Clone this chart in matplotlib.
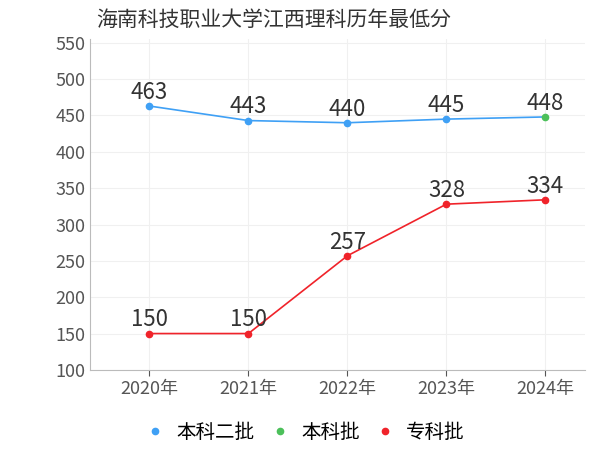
import matplotlib
matplotlib.use('Agg')
import matplotlib.pyplot as plt
from matplotlib import font_manager

names = {f.name for f in font_manager.fontManager.ttflist}
cjk = [n for n in ["Noto Sans CJK SC", "Noto Sans CJK JP", "Noto Sans CJK TC", "Noto Sans CJK KR"] if n in names]
plt.rcParams['font.family'] = 'sans-serif'
plt.rcParams['font.sans-serif'] = cjk + ['DejaVu Sans']

years = ["2020年", "2021年", "2022年", "2023年", "2024年"]
benke2 = [463, 443, 440, 445]
benke = [448]
zhuanke = [150, 150, 257, 328, 334]

blue = "#3fa0f5"
green = "#4cc05a"
red = "#f0232a"

fig = plt.figure(figsize=(6, 4.5), dpi=100)
ax = fig.add_axes([0.15, 0.178, 0.825, 0.735])

x = list(range(len(years)))
# blue line connects 本科二批 and 本科批
ax.plot(x, benke2 + benke, color=blue, lw=1.2, zorder=2)
ax.plot(x[:4], benke2, 'o', color=blue, ms=4.5, zorder=3)
ax.plot(x[4:], benke, 'o', color=green, ms=4.5, zorder=3)
ax.plot(x, zhuanke, '-o', color=red, lw=1.2, ms=4.5, zorder=3)

for xi, v in zip(x, benke2 + benke):
    ax.text(xi, v + 3, str(v), ha='center', va='bottom', fontsize=16, color='#333333')
for xi, v in zip(x, zhuanke):
    ax.text(xi, v + 3, str(v), ha='center', va='bottom', fontsize=16, color='#333333')

ax.set_xlim(-0.6, 4.4)
ax.set_ylim(100, 555)
ax.set_yticks(range(100, 551, 50))
ax.set_xticks(x)
ax.set_xticklabels(years)
ax.tick_params(axis='both', labelsize=13, colors='#555555', length=4)
ax.tick_params(axis='y', length=0)
ax.grid(axis='y', color='#f0f0f0', lw=0.8)
ax.grid(axis='x', color='#f0f0f0', lw=0.8)
ax.set_axisbelow(True)
for s in ['top', 'right']:
    ax.spines[s].set_visible(False)
ax.spines['left'].set_color('#bbbbbb')
ax.spines['bottom'].set_color('#bbbbbb')

fig.text(0.16, 0.955, "海南科技职业大学江西理科历年最低分", fontsize=15, color='#333333', va='center')

handles = [plt.Line2D([], [], color=c, marker='o', lw=0, ms=4.5) for c in (blue, green, red)]
fig.legend(handles, ["本科二批", "本科批", "专科批"], loc='center', bbox_to_anchor=(0.5, 0.04),
           ncol=3, frameon=False, fontsize=14, handletextpad=0.1, columnspacing=0.3)

fig.savefig("out.png")
